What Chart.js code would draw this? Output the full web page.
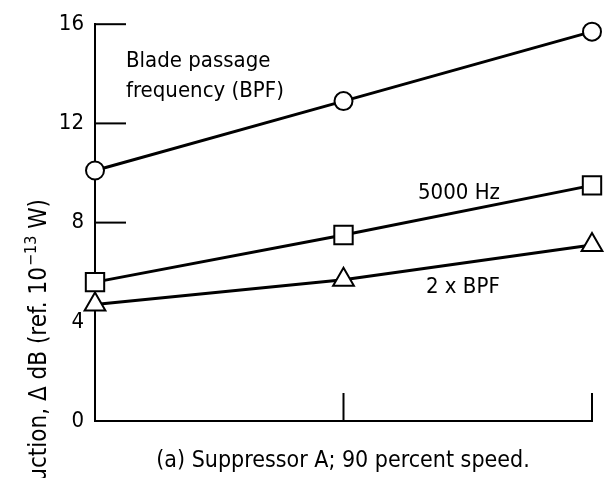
<!DOCTYPE html>
<html>
<head>
<meta charset="utf-8">
<script src="https://cdn.jsdelivr.net/npm/chart.js@4.4.1/dist/chart.umd.min.js"></script>
<style>
  html, body { margin: 0; padding: 0; background: #fff; }
  #wrap { width: 607px; height: 478px; position: relative; }
</style>
</head>
<body>
<div id="wrap"><canvas id="chart"></canvas></div>
<script>
const xPositions = [0, 1, 2];
const bpfValues = [10.1, 12.9, 15.7];
const hz5000Values = [5.6, 7.5, 9.5];
const bpf2Values = [4.7, 5.7, 7.1];
const yTickValues = [0, 4, 8, 12, 16];
const yInnerTicks = [8, 12, 16];
const xInnerTicks = [1, 2];

const FONT = '"DejaVu Sans Condensed", "Liberation Sans Narrow", sans-serif';

const toPoints = vals => vals.map((v, i) => ({ x: xPositions[i], y: v }));

const baseSet = {
    borderColor: '#000',
    borderWidth: 3,
    pointBackgroundColor: '#fff',
    pointBorderColor: '#000',
    pointBorderWidth: 2,
    tension: 0,
    fill: false,
    clip: false
};

const decor = {
    id: 'decor',
    beforeDatasetsDraw(chart) {
        const { ctx, scales: { x, y } } = chart;
        ctx.save();
        ctx.strokeStyle = '#000';
        ctx.lineWidth = 2;
        const left = x.getPixelForValue(0);
        yInnerTicks.forEach(v => {
            const py = y.getPixelForValue(v);
            ctx.beginPath();
            ctx.moveTo(left, py);
            ctx.lineTo(left + 31, py);
            ctx.stroke();
        });
        const bottom = y.getPixelForValue(0);
        xInnerTicks.forEach(v => {
            const px = x.getPixelForValue(v);
            ctx.beginPath();
            ctx.moveTo(px, bottom);
            ctx.lineTo(px, bottom - 28);
            ctx.stroke();
        });
        ctx.restore();
    },
    afterDraw(chart) {
        const ctx = chart.ctx;
        ctx.save();
        ctx.fillStyle = '#000';
        ctx.font = '22px ' + FONT;
        ctx.textBaseline = 'alphabetic';
        ctx.textAlign = 'left';
        ctx.fillText('Blade passage', 126, 67);
        ctx.fillText('frequency (BPF)', 126, 97);
        ctx.fillText('5000 Hz', 418, 199);
        ctx.fillText('2 x BPF', 426, 293);
        ctx.font = '23px ' + FONT;
        ctx.textAlign = 'center';
        ctx.fillText('(a) Suppressor A; 90 percent speed.', 343, 467);

        // rotated y title, its end ("W)") sits near y = 200
        const main = 'Sound power level reduction, \u0394 dB (ref. 10';
        const sup = '\u221213';
        const tail = ' W)';
        const big = '24px ' + FONT, small = '16px ' + FONT;
        ctx.font = big;
        const wMain = ctx.measureText(main).width, wTail = ctx.measureText(tail).width;
        ctx.font = small;
        const wSup = ctx.measureText(sup).width;
        ctx.translate(46, 200);
        ctx.rotate(-Math.PI / 2);
        ctx.textAlign = 'left';
        let pos = -(wMain + wSup + wTail);
        ctx.font = big;
        ctx.fillText(main, pos, 0);
        pos += wMain;
        ctx.font = small;
        ctx.fillText(sup, pos + 1, -10);
        pos += wSup + 1;
        ctx.font = big;
        ctx.fillText(tail, pos, 0);
        ctx.restore();
    }
};

new Chart(document.getElementById('chart'), {
    type: 'line',
    data: {
        datasets: [
            { ...baseSet, label: 'Blade passage frequency (BPF)', data: toPoints(bpfValues), pointStyle: 'circle', pointRadius: 9 },
            { ...baseSet, label: '5000 Hz', data: toPoints(hz5000Values), pointStyle: 'rect', pointRadius: 13 },
            { ...baseSet, label: '2 x BPF', data: toPoints(bpf2Values), pointStyle: 'triangle', pointRadius: 12 }
        ]
    },
    options: {
        responsive: true,
        maintainAspectRatio: false,
        animation: false,
        layout: { padding: { top: 20, right: 14, left: 0, bottom: 0 } },
        plugins: { legend: { display: false }, tooltip: { enabled: false } },
        scales: {
            x: {
                type: 'linear',
                min: 0,
                max: 2,
                grid: { display: false },
                border: { display: true, color: '#000', width: 2 },
                ticks: { display: false },
                afterFit: s => { s.height = 57; }
            },
            y: {
                type: 'linear',
                min: 0,
                max: 16,
                afterBuildTicks: s => { s.ticks = yTickValues.map(v => ({ value: v })); },
                grid: { display: false, drawTicks: false },
                border: { display: true, color: '#000', width: 2 },
                ticks: { color: '#000', padding: 11, font: { family: FONT, size: 22 } },
                afterFit: s => { s.width = 95; }
            }
        }
    },
    plugins: [decor]
});
</script>
</body>
</html>
